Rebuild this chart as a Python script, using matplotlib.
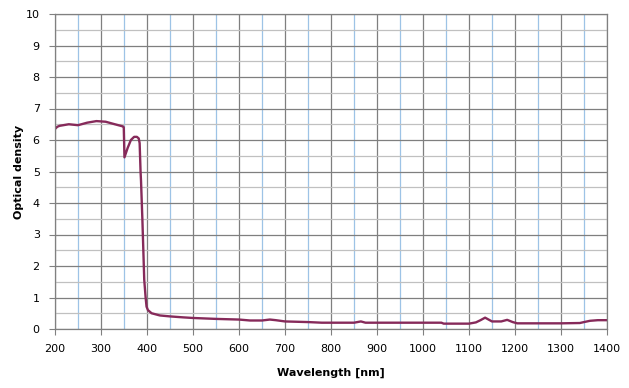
import matplotlib
matplotlib.use("Agg")
import matplotlib.pyplot as plt
from matplotlib.ticker import MultipleLocator

# transmission spectrum
wavelength = [200, 205, 210, 230, 250, 270, 290, 310, 330, 348, 349.5, 351,
              358, 365, 372, 378, 382, 384, 386, 387, 390, 394, 397, 399,
              402, 410, 428, 450, 478, 500, 551, 600, 624, 650, 667, 680,
              700, 750, 780, 850, 865, 875, 950, 1040, 1045, 1100, 1115,
              1125, 1135, 1150, 1170, 1183, 1195, 1205, 1250, 1300, 1341,
              1350, 1363, 1380, 1400]
density = [6.35, 6.42, 6.45, 6.5, 6.47, 6.55, 6.6, 6.58, 6.5, 6.43, 6.4, 5.45,
           5.75, 6.0, 6.1, 6.1, 6.05, 5.9, 5.0, 4.7, 3.46, 1.56, 1.0, 0.71,
           0.6, 0.5, 0.43, 0.4, 0.37, 0.35, 0.32, 0.3, 0.27, 0.27, 0.3, 0.28,
           0.24, 0.22, 0.2, 0.2, 0.24, 0.2, 0.2, 0.2, 0.17, 0.17, 0.21,
           0.28, 0.36, 0.24, 0.24, 0.29, 0.22, 0.18, 0.18, 0.18, 0.19,
           0.22, 0.26, 0.28, 0.28]

fig = plt.figure(figsize=(6.29, 3.88), dpi=100)
ax = fig.add_axes([55 / 629, 1 - 329 / 388, 552 / 629, 315 / 388])

ax.plot(wavelength, density, color="#862a5a", lw=1.7, solid_joinstyle="round")

ax.set_xlim(200, 1400)
ax.set_ylim(0, 10)
ax.xaxis.set_major_locator(MultipleLocator(100))
ax.xaxis.set_minor_locator(MultipleLocator(50))
ax.yaxis.set_major_locator(MultipleLocator(1))
ax.yaxis.set_minor_locator(MultipleLocator(0.5))

ax.grid(which="major", color="#7f7f7f", lw=0.9)
ax.grid(which="minor", axis="x", color="#9dc3e6", lw=0.9)
ax.grid(which="minor", axis="y", color="#c0c0c0", lw=0.9)
ax.set_axisbelow(True)

for s in ax.spines.values():
    s.set_color("#808080")
    s.set_linewidth(0.9)

ax.tick_params(which="major", direction="out", length=4, color="#808080",
               labelsize=8, pad=7)
ax.tick_params(which="minor", length=0)

ax.set_xlabel("Wavelength [nm]", fontsize=8, fontweight="bold", labelpad=10)
ax.set_ylabel("Optical density", fontsize=8, fontweight="bold", labelpad=1)

fig.savefig("out.png", dpi=100)
